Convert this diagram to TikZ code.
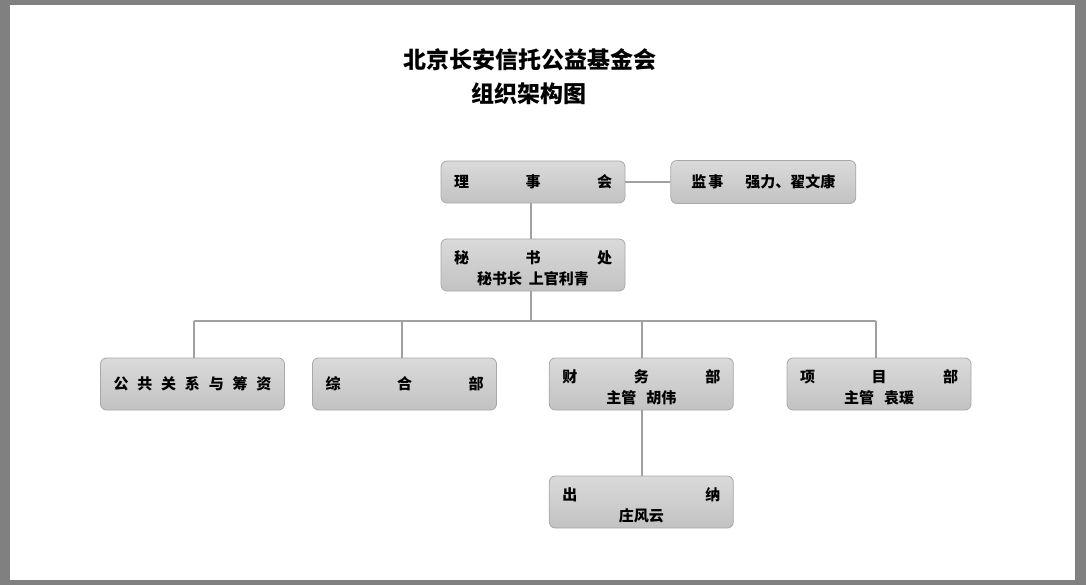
\documentclass[tikz,border=0pt]{standalone}
\usepackage{fontspec}
\setmainfont{Noto Sans CJK SC}
\definecolor{pagegray}{HTML}{808080}
\definecolor{boxtop}{HTML}{DADADA}
\definecolor{boxbot}{HTML}{C2C2C2}
\definecolor{boxline}{HTML}{A8A8A8}
\definecolor{connc}{HTML}{A0A0A0}
\begin{document}
\begin{tikzpicture}[x=1pt,y=-1pt,
  box/.style={draw=boxline, line width=0.8pt, rounded corners=6pt, top color=boxtop, bottom color=boxbot, minimum width=184pt, inner sep=0pt},
  conn/.style={draw=connc, line width=2pt},
  txt/.style={inner sep=0pt, font=\bfseries\fontsize{15}{18}\selectfont},
  ttl/.style={inner sep=0pt, font=\bfseries\fontsize{23}{28}\selectfont}]
\useasboundingbox (0,0) rectangle (1086,585);
\fill[pagegray] (0,0) rectangle (1086,585);
\fill[white] (10,5) rectangle (1075,580);
% title
\node[ttl] (t1) at (530,59.5) {北京长安信托公益基金会};
\node[ttl] (t2) at (529,93.5) {组织架构图};
% connectors first (boxes drawn over their ends)
\coordinate (bus) at (531,321);
\coordinate (b1) at (194,321);
\coordinate (b2) at (402,321);
\coordinate (b3) at (642,321);
\coordinate (b4) at (876,321);
% boxes
\node[box, minimum height=42pt] (lsh) at (533,182) {};
\node[box, minimum height=43pt, minimum width=185pt] (jsh) at (763.3,182) {};
\node[box, minimum height=52pt] (msc) at (533,265) {};
\node[box, minimum height=52pt] (ggx) at (192.5,384) {};
\node[box, minimum height=52pt] (zhb) at (404.5,384) {};
\node[box, minimum height=52pt] (cwb) at (641.3,384) {};
\node[box, minimum height=52pt] (xmb) at (879,384) {};
\node[box, minimum height=52pt] (cnb) at (641.3,502) {};
% texts
\node[txt] (lsh-t) at (lsh.center) {\makebox[158pt][s]{理\hfill 事\hfill 会}};
\node[txt] (jsh-t) at (jsh.center) {监\hspace{2pt}事\hspace{22pt}强力、翟文康};
\node[txt] (msc-a) at (533,257.5) {\makebox[158pt][s]{秘\hfill 书\hfill 处}};
\node[txt] (msc-b) at (533,278.5) {秘书长\hspace{7pt}上官利青};
\node[txt] (ggx-t) at (ggx.center) {\makebox[158pt][s]{公\hfill 共\hfill 关\hfill 系\hfill 与\hfill 筹\hfill 资}};
\node[txt] (zhb-t) at (zhb.center) {\makebox[158pt][s]{综\hfill 合\hfill 部}};
\node[txt] (cwb-a) at (641.3,376.5) {\makebox[158pt][s]{财\hfill 务\hfill 部}};
\node[txt] (cwb-b) at (641.3,397.5) {主管\hspace{10pt}胡伟};
\node[txt] (xmb-a) at (879,376.5) {\makebox[158pt][s]{项\hfill 目\hfill 部}};
\node[txt] (xmb-b) at (879,397.5) {主管\hspace{10pt}袁瑗};
\node[txt] (cnb-a) at (641.3,494.5) {\makebox[158pt][s]{出\hfill 纳}};
\node[txt] (cnb-b) at (641.3,515.5) {庄风云};
% connectors
\draw[conn] (lsh.east) -- (jsh.west);
\draw[conn] (bus |- lsh.south) -- (bus |- msc.north);
\draw[conn] (bus |- msc.south) -- (bus);
\draw[conn] (b1) -- (b4);
\draw[conn] (b1) -- (b1 |- ggx.north);
\draw[conn] (b2) -- (b2 |- zhb.north);
\draw[conn] (b3) -- (b3 |- cwb.north);
\draw[conn] (b4) -- (b4 |- xmb.north);
\draw[conn] (b3 |- cwb.south) -- (b3 |- cnb.north);
\end{tikzpicture}
\end{document}
